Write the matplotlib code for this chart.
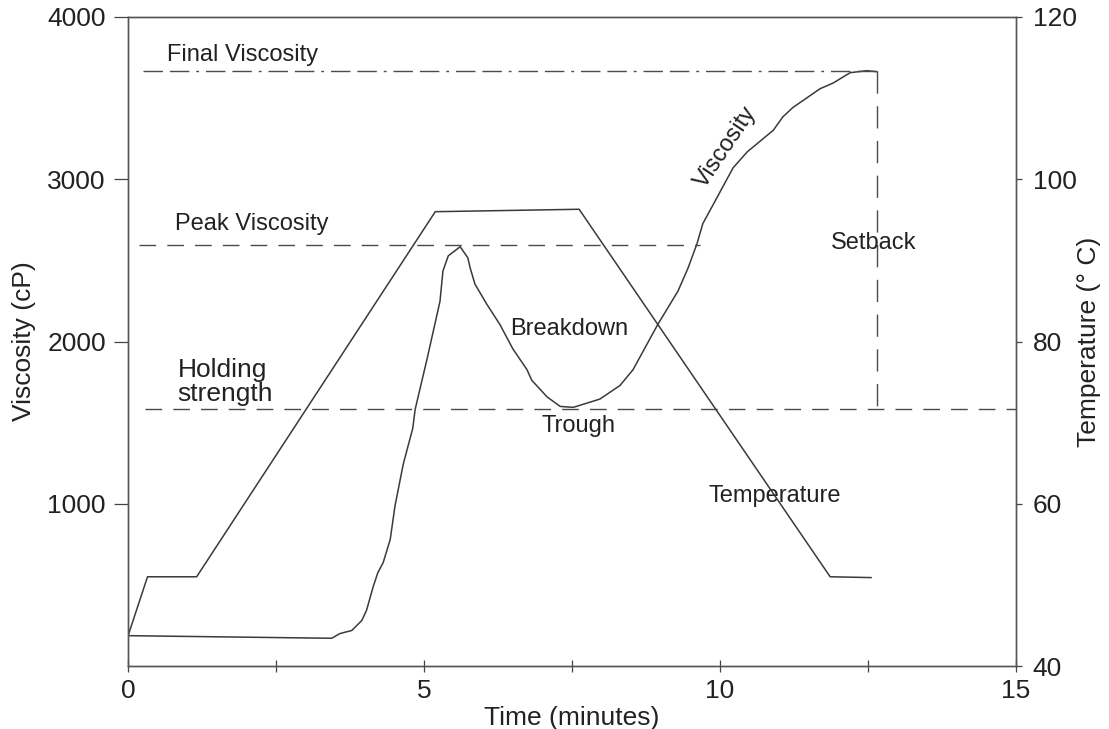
import matplotlib
matplotlib.use("Agg")
import matplotlib.pyplot as plt
from matplotlib.ticker import FixedLocator

plt.rcParams['font.family'] = ['Liberation Sans', 'DejaVu Sans']

# pasting curve: viscosity (cP) against time (min)
visc_time = [0, 3.44, 3.58, 3.78, 3.95, 4.03, 4.14, 4.22, 4.31, 4.43, 4.51, 4.65,
             4.81, 4.85, 5.05, 5.27, 5.32, 5.41, 5.61, 5.74, 5.78, 5.86, 6.06, 6.28,
             6.50, 6.74, 6.82, 7.08, 7.30, 7.52, 7.97, 8.31, 8.53, 8.95, 9.29, 9.46,
             9.61, 9.71, 9.95, 10.22, 10.46, 10.90, 11.06, 11.23, 11.69, 11.91, 12.20,
             12.48, 12.65]
viscosity = [187, 171, 200, 219, 281, 344, 487, 575, 637, 781, 987, 1245,
             1465, 1581, 1890, 2248, 2435, 2528, 2584, 2516, 2453, 2354, 2230, 2106,
             1955, 1826, 1761, 1658, 1600, 1594, 1645, 1729, 1826, 2106, 2311, 2453,
             2602, 2727, 2888, 3070, 3169, 3302, 3384, 3442, 3558, 3593, 3657,
             3669, 3663]

# temperature profile (deg C)
temp_time = [0, 0.33, 1.16, 5.19, 7.62, 11.86, 12.55]
temperature = [43.7, 51, 51, 96, 96.3, 51, 50.9]

# reference levels
final_visc = 3670
peak_visc = 2596
trough_visc = 1585
setback_time = 12.65

line_col = '#3a3a3a'
dash_col = '#4a4a4a'
txt_col = '#222222'

fig = plt.figure(figsize=(11.09, 7.29), dpi=100)
ax = fig.add_axes([0.1154, 0.0864, 0.8008, 0.8903])
ax2 = ax.twinx()

ax.plot(visc_time, viscosity, color=line_col, lw=1.1)
ax2.plot(temp_time, temperature, color=line_col, lw=1.1)

# reference lines
ax.plot([0.25, 12.72], [final_visc, final_visc], color=dash_col, lw=1.0,
        dashes=(14, 5, 14, 5, 2, 5))
ax.plot([0.19, 9.66], [peak_visc, peak_visc], color=dash_col, lw=1.0, dashes=(12, 8))
ax.plot([0.29, 15], [trough_visc, trough_visc], color=dash_col, lw=1.0, dashes=(12, 8))
ax.plot([setback_time, setback_time], [final_visc, trough_visc], color=dash_col,
        lw=1.0, dashes=(16, 9))

fs = 17
ax.text(0.66, 3767, 'Final Viscosity', fontsize=fs, va='center', color=txt_col)
ax.text(0.79, 2727, 'Peak Viscosity', fontsize=fs, va='center', color=txt_col)
ax.text(0.84, 1748, 'Holding\nstrength', fontsize=19, va='center', color=txt_col,
        linespacing=1.0)
ax.text(6.45, 2075, 'Breakdown', fontsize=fs, va='center', color=txt_col)
ax.text(6.98, 1477, 'Trough', fontsize=fs, va='center', color=txt_col)
ax.text(11.88, 2610, 'Setback', fontsize=fs, va='center', color=txt_col)
ax.text(9.80, 1045, 'Temperature', fontsize=fs, va='center', color=txt_col)
ax.text(10.10, 3200, 'Viscosity', fontsize=fs, va='center', ha='center',
        rotation=56, rotation_mode='anchor', color=txt_col)

ax.set_xlim(0, 15)
ax.set_ylim(0, 4000)
ax2.set_ylim(40, 120)

ax.set_xticks([0, 5, 10, 15])
ax.xaxis.set_minor_locator(FixedLocator([2.5, 7.5, 12.5]))
ax.set_yticks([1000, 2000, 3000, 4000])
ax2.set_yticks([40, 60, 80, 100, 120])

ax.tick_params(axis='x', which='both', direction='inout', length=9, width=0.9,
               colors='#444444', labelcolor=txt_col, labelsize=19, pad=5)
ax.tick_params(axis='y', direction='out', length=10, width=0.9,
               colors='#444444', labelcolor=txt_col, labelsize=19, pad=6)
ax2.tick_params(axis='y', direction='out', length=4, width=0.9,
                colors='#444444', labelcolor=txt_col, labelsize=19, pad=8)

for a in (ax, ax2):
    for sp in a.spines.values():
        sp.set_color('#555555')
        sp.set_linewidth(1.0)

ax.set_xlabel('Time (minutes)', fontsize=19, color=txt_col, labelpad=2)
ax.set_ylabel('Viscosity (cP)', fontsize=19, color=txt_col, labelpad=8)
ax2.set_ylabel('Temperature (° C)', fontsize=19, color=txt_col, labelpad=0)

fig.savefig('out.png', dpi=100)
